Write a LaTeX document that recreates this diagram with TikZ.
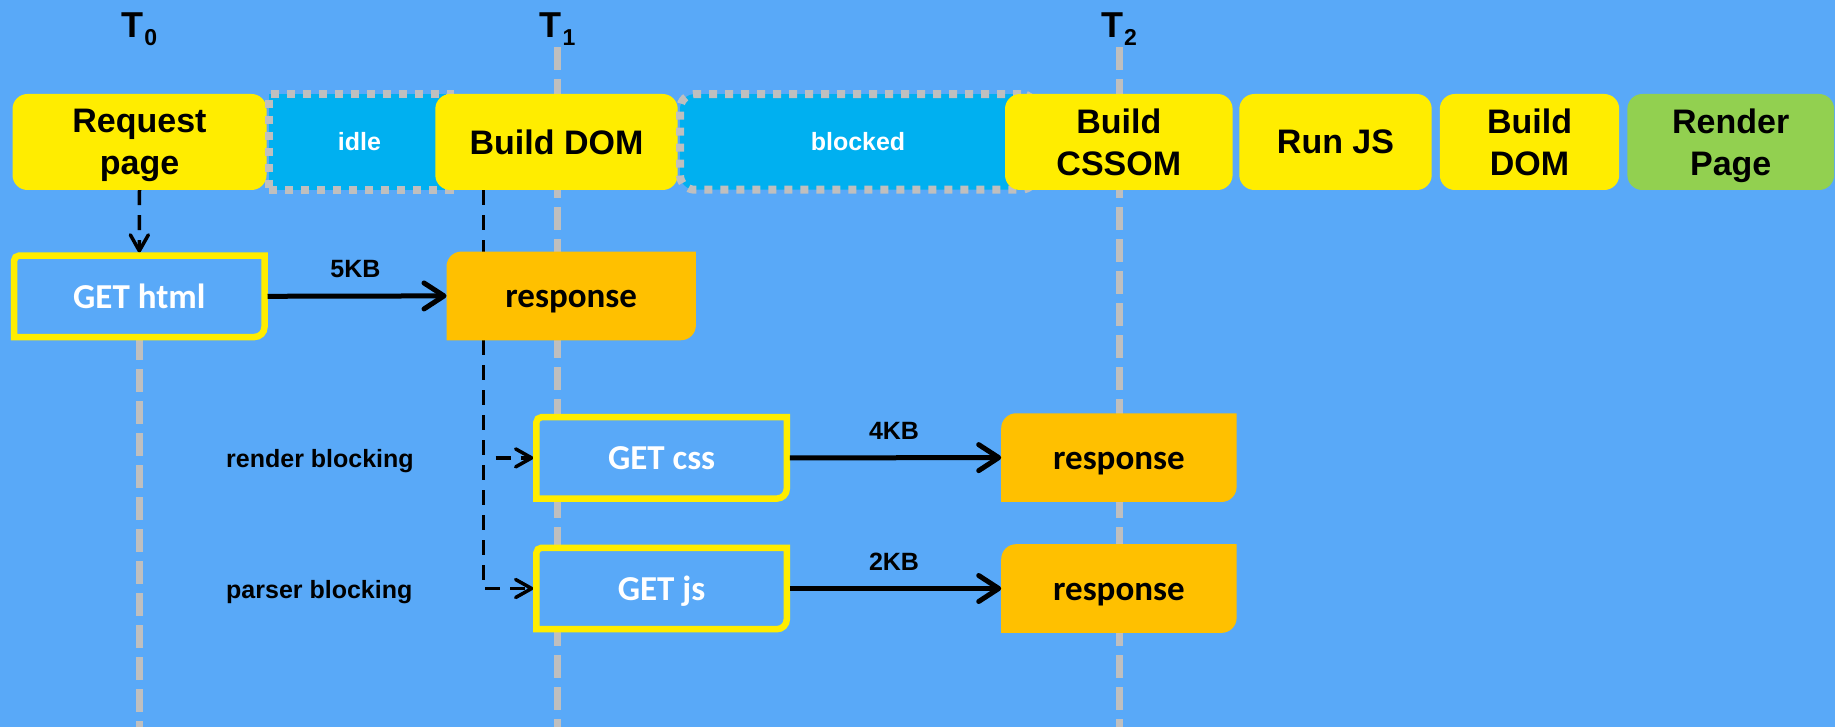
\documentclass[tikz,border=0pt]{standalone}
\usepackage{fontspec}
\setmainfont{Liberation Sans}
\newfontfamily\boxfont{Carlito}
\usetikzlibrary{arrows.meta}

\definecolor{pageblue}{RGB}{89,169,248}
\definecolor{stageyellow}{RGB}{255,237,0}
\definecolor{waitcyan}{RGB}{0,176,240}
\definecolor{doneorange}{RGB}{255,192,0}
\definecolor{paintgreen}{RGB}{146,208,80}
\definecolor{markgray}{RGB}{191,191,191}

\newcommand{\stagefont}{\fontsize{34}{42}\selectfont\bfseries}
\newcommand{\notefont}{\fontsize{25}{30}\selectfont\bfseries}
\newcommand{\fetchfont}{\fontsize{35}{42}\selectfont\boxfont\bfseries}
\newcommand{\tmark}[1]{T\kern1pt\raisebox{-8.4pt}{\fontsize{23}{23}\selectfont #1}}

\pgfdeclarelayer{bg}
\pgfdeclarelayer{lines}
\pgfdeclarelayer{fills}
\pgfsetlayers{bg,lines,fills,main}

\tikzset{
	stage/.style = {fill=stageyellow, rounded corners=15pt, minimum height=96pt,
		inner sep=0pt, align=center, text depth=0pt, font=\stagefont},
	wait/.style = {fill=waitcyan, draw=markgray, line width=8pt,
		dash pattern=on 8pt off 8pt, minimum height=95.7pt,
		inner sep=0pt, text depth=0pt, text=white, font=\notefont},
	fetch/.style = {fill=pageblue, minimum width=250pt, minimum height=81pt,
		inner sep=0pt, text height=24pt, text depth=0pt, text=white, font=\fetchfont},
	reply/.style = {minimum height=88.3pt, inner sep=0pt,
		text height=24pt, text depth=0pt, font=\fetchfont},
	note/.style = {inner sep=0pt, font=\notefont},
	timeline/.style = {markgray, line width=7pt, dash pattern=on 23pt off 9pt},
	transfer/.style = {-{Straight Barb[length=20pt, width=26pt, round]}, line width=5pt},
	trigger/.style = {-{Straight Barb[length=16pt, width=18pt, round]}, line width=3.5pt,
		dash pattern=on 15pt off 10pt, shorten >=3pt},
}

\begin{document}
\begin{tikzpicture}[x=1pt, y=1pt]

	% Page and bottom edge
	
	\begin{pgfonlayer}{bg}
		\fill[pageblue] (0,0) rectangle (1835,-727);
	\end{pgfonlayer}
	\useasboundingbox (0,0) rectangle (1835,-727);
	\coordinate (floor) at (0,-727);

	% Time marks
	
	\begin{scope}[every node/.style={anchor=base, inner sep=0pt, font=\fontsize{36}{36}\selectfont\bfseries}]
	
		\node (t0) at (139.3,-37.3) {\tmark{0}};
		\node (t1) at (557.5,-37.3) {\tmark{1}};
		\node (t2) at (1119,-37.3) {\tmark{2}};

	\end{scope}

	% Main thread stages
	
	\node[stage, minimum width=254pt] (request) at (139.5,-142) {Request\\page};
	\node[wait, minimum width=181.3pt] (idle) at (359.4,-141.9) {idle};
	\node[stage, minimum width=242.4pt] (builddom) at (556.5,-142) {Build DOM};
	\node[wait, rounded corners=15pt, minimum width=356pt] (blocked) at (858,-141.9) {blocked};
	\node[stage, minimum width=227.6pt] (cssom) at (1118.8,-142) {Build\\CSSOM};
	\node[stage, minimum width=192.4pt] (runjs) at (1335.5,-142) {Run JS};
	\node[stage, minimum width=179.4pt] (rebuild) at (1529.5,-142) {Build\\DOM};
	\node[stage, fill=paintgreen, minimum width=206.7pt] (render) at (1730.7,-142) {Render\\Page};

	% Network requests and responses
	
	\node[fetch] (gethtml) at (139.3,-296.3) {GET html};
	\node[reply, minimum width=249pt] (resphtml) at (571.2,-295.9) {response};
	\node[fetch] (getcss) at (661.6,-457.9) {GET css};
	\node[reply, minimum width=235pt] (respcss) at (1118.9,-457.6) {response};
	\node[fetch] (getjs) at (661.6,-588.5) {GET js};
	\node[reply, minimum width=235pt] (respjs) at (1118.9,-588.5) {response};

	\foreach \g in {gethtml, getcss, getjs}
		\draw[stageyellow, line width=6.5pt] ([yshift=-5pt]\g.north west) arc (180:90:5pt)
			-- (\g.north east) -- ([yshift=10pt]\g.south east) arc (0:-90:10pt)
			-- (\g.south west) -- cycle;

	\begin{pgfonlayer}{fills}
		\foreach \r in {resphtml, respcss, respjs}
			\fill[doneorange] ([yshift=-15pt]\r.north west) arc (180:90:15pt)
				-- (\r.north east) -- ([yshift=15pt]\r.south east) arc (0:-90:15pt)
				-- (\r.south west) -- cycle;
	\end{pgfonlayer}

	% Blocking notes
	
	\node[note, anchor=base west] (renderblock) at (226,-467.7) {render blocking};
	\node[note, anchor=base west] (parserblock) at (226,-598.3) {parser blocking};

	% Transfers
	
	\draw[transfer, shorten <=3pt] (gethtml.east) -- node[note, midway, above=16pt] {5KB} (resphtml.west);
	\draw[transfer, shorten <=3pt] (getcss.east) -- node[note, midway, above=16pt] {4KB} (respcss.west);
	\draw[transfer, shorten <=3pt] (getjs.east) -- node[note, midway, above=16pt] {2KB} (respjs.west);

	% Time lines and triggers behind the boxes
	
	\coordinate (fork) at ([xshift=-73pt]builddom.south);
	
	\begin{pgfonlayer}{lines}
	
		\draw[timeline] (gethtml.south) -- (gethtml.south |- floor);
		\draw[timeline] ([yshift=-9.7pt]t1.base) -- (t1.base |- floor);
		\draw[timeline] ([yshift=-9.7pt]t2.base) -- (t2.base |- floor);
		
		\draw[trigger] (request.south) -- (gethtml.north);
		\draw[trigger] (fork) |- (getjs.west);
		\draw[trigger] ([xshift=12pt]fork |- getcss.west) -- (getcss.west);
	
	\end{pgfonlayer}

\end{tikzpicture}
\end{document}
